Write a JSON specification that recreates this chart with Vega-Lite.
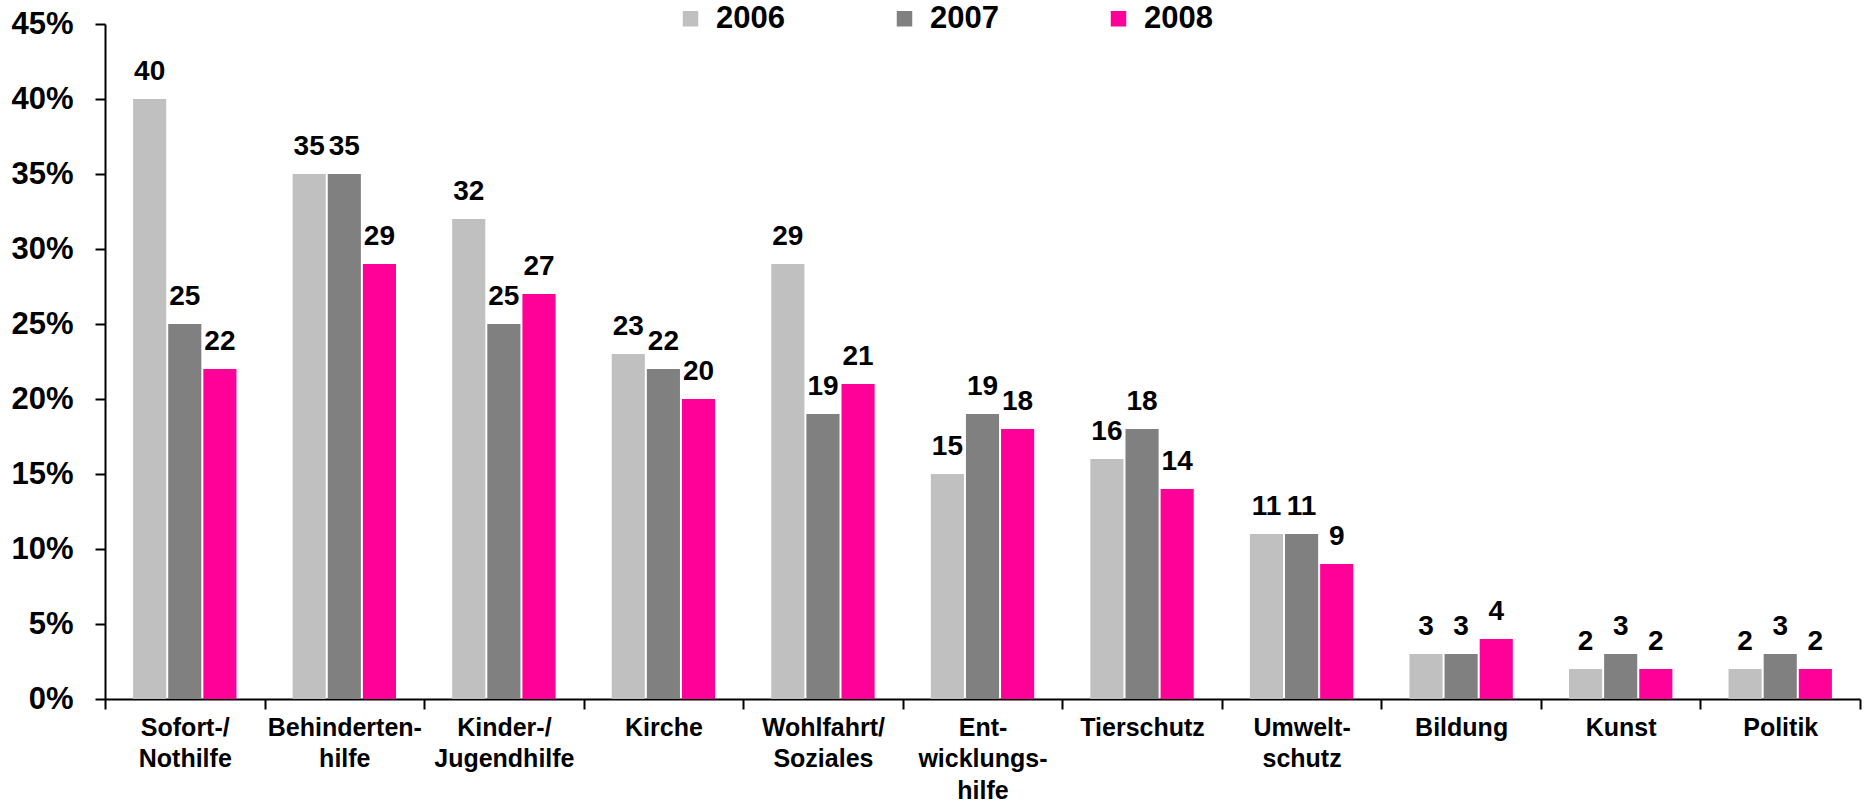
{
  "$schema": "https://vega.github.io/schema/vega-lite/v6.json",
  "width": 1755,
  "height": 675,
  "padding": {"left": 10, "top": 3, "right": 5, "bottom": 0},
  "background": "white",
  "config": {
    "view": {"stroke": null},
    "font": "Liberation Sans",
    "axis": {"labelFont": "Liberation Sans", "labelFontWeight": "bold", "labelColor": "black", "domainColor": "black", "tickColor": "black", "domainWidth": 2, "tickWidth": 2, "grid": false, "title": null},
    "legend": {"labelFont": "Liberation Sans", "labelFontWeight": "bold"}
  },
  "data": {
    "values": [
      {"cat": "Sofort-/|Nothilfe", "year": "2006", "value": 40},
      {"cat": "Sofort-/|Nothilfe", "year": "2007", "value": 25},
      {"cat": "Sofort-/|Nothilfe", "year": "2008", "value": 22},
      {"cat": "Behinderten-|hilfe", "year": "2006", "value": 35},
      {"cat": "Behinderten-|hilfe", "year": "2007", "value": 35},
      {"cat": "Behinderten-|hilfe", "year": "2008", "value": 29},
      {"cat": "Kinder-/|Jugendhilfe", "year": "2006", "value": 32},
      {"cat": "Kinder-/|Jugendhilfe", "year": "2007", "value": 25},
      {"cat": "Kinder-/|Jugendhilfe", "year": "2008", "value": 27},
      {"cat": "Kirche", "year": "2006", "value": 23},
      {"cat": "Kirche", "year": "2007", "value": 22},
      {"cat": "Kirche", "year": "2008", "value": 20},
      {"cat": "Wohlfahrt/|Soziales", "year": "2006", "value": 29},
      {"cat": "Wohlfahrt/|Soziales", "year": "2007", "value": 19},
      {"cat": "Wohlfahrt/|Soziales", "year": "2008", "value": 21},
      {"cat": "Ent-|wicklungs-|hilfe", "year": "2006", "value": 15},
      {"cat": "Ent-|wicklungs-|hilfe", "year": "2007", "value": 19},
      {"cat": "Ent-|wicklungs-|hilfe", "year": "2008", "value": 18},
      {"cat": "Tierschutz", "year": "2006", "value": 16},
      {"cat": "Tierschutz", "year": "2007", "value": 18},
      {"cat": "Tierschutz", "year": "2008", "value": 14},
      {"cat": "Umwelt-|schutz", "year": "2006", "value": 11},
      {"cat": "Umwelt-|schutz", "year": "2007", "value": 11},
      {"cat": "Umwelt-|schutz", "year": "2008", "value": 9},
      {"cat": "Bildung", "year": "2006", "value": 3},
      {"cat": "Bildung", "year": "2007", "value": 3},
      {"cat": "Bildung", "year": "2008", "value": 4},
      {"cat": "Kunst", "year": "2006", "value": 2},
      {"cat": "Kunst", "year": "2007", "value": 3},
      {"cat": "Kunst", "year": "2008", "value": 2},
      {"cat": "Politik", "year": "2006", "value": 2},
      {"cat": "Politik", "year": "2007", "value": 3},
      {"cat": "Politik", "year": "2008", "value": 2}
    ]
  },
  "encoding": {
    "x": {
      "field": "cat", "type": "nominal", "sort": null,
      "scale": {"paddingInner": 0, "paddingOuter": 0},
      "axis": {"labelAngle": 0, "tickBand": "extent", "tickSize": 10, "labelFontSize": 25, "labelPadding": 6, "labelLineHeight": 31.5, "labelExpr": "isString(datum.value) ? split(datum.value, '|') : ''", "labelLimit": 300}
    },
    "xOffset": {"field": "year", "type": "nominal", "scale": {"paddingInner": 0.057, "paddingOuter": 0.8}},
    "y": {
      "field": "value", "type": "quantitative",
      "scale": {"domain": [0, 45], "nice": false},
      "axis": {"values": [0, 5, 10, 15, 20, 25, 30, 35, 40, 45], "labelExpr": "datum.value + '%'", "tickSize": 10, "labelFontSize": 31, "labelPadding": 22}
    }
  },
  "layer": [
    {
      "mark": {"type": "bar"},
      "encoding": {
        "color": {
          "field": "year", "type": "nominal",
          "scale": {"domain": ["2006", "2007", "2008"], "range": ["#C0C0C0", "#808080", "#FF0099"]},
          "legend": {"title": null, "orient": "none", "legendX": 570, "legendY": -21, "direction": "horizontal", "columns": 3, "gridAlign": "all", "symbolType": "square", "symbolSize": 240, "symbolStrokeWidth": 0, "symbolOpacity": 1, "labelFontSize": 31, "labelOffset": 10, "columnPadding": 104, "labelColor": "black", "padding": 0}
        }
      }
    },
    {
      "mark": {"type": "text", "baseline": "alphabetic", "dy": -19, "fontSize": 28, "fontWeight": "bold", "color": "black"},
      "encoding": {"text": {"field": "value", "type": "quantitative"}}
    }
  ]
}
